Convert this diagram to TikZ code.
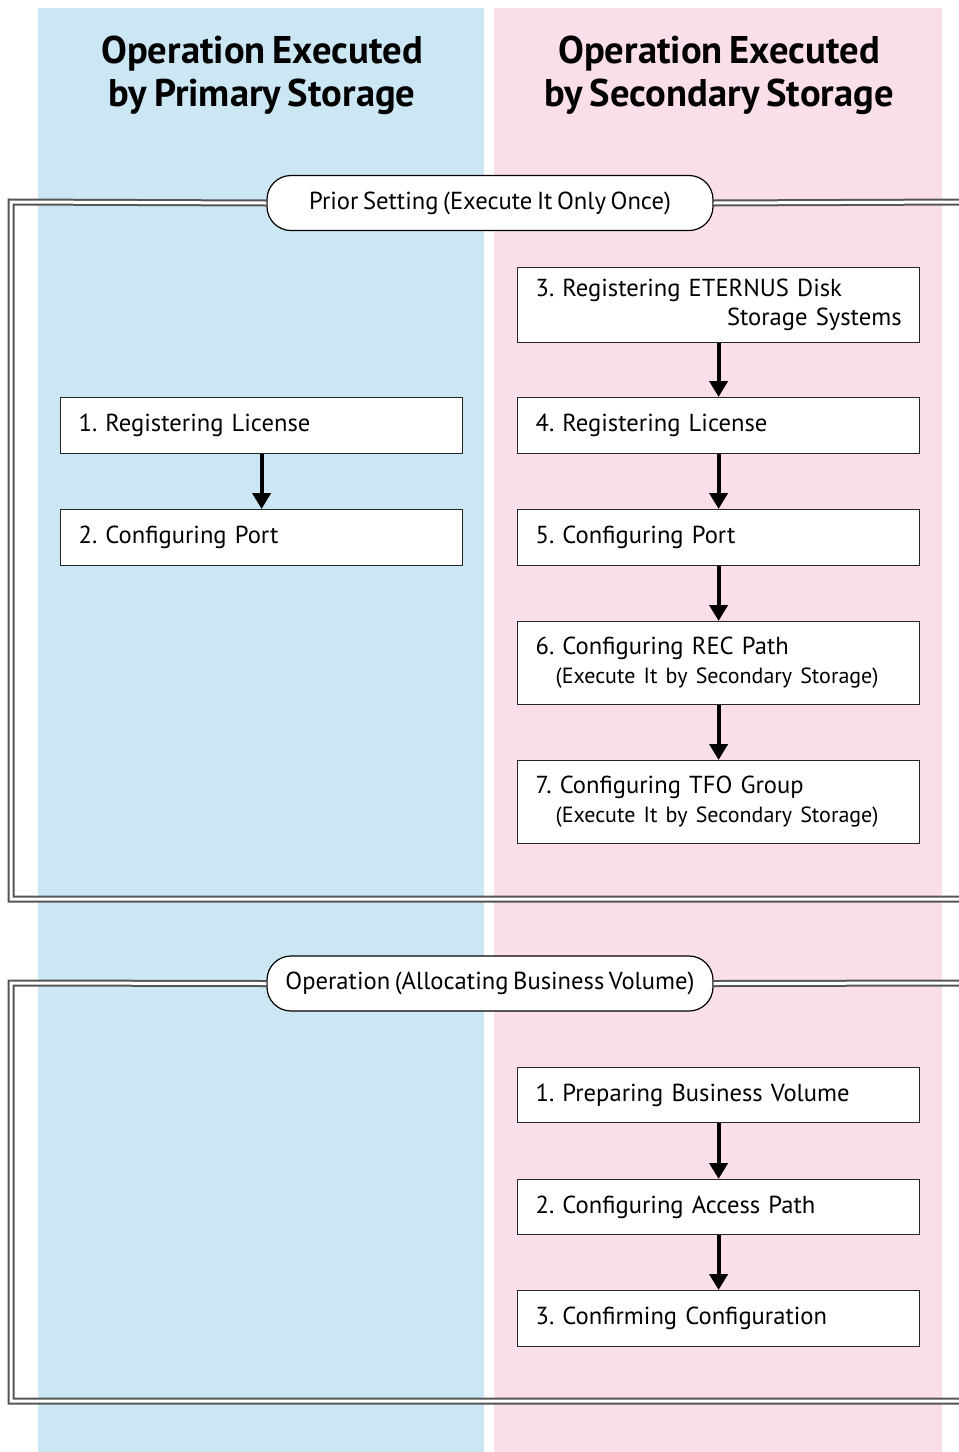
\documentclass[tikz,border=0pt]{standalone}
\usepackage{fontspec}
\setmainfont[WordSpace=0.7]{PT Sans}
\frenchspacing
\usetikzlibrary{arrows.meta}
\definecolor{colblue}{HTML}{CBE7F3}
\definecolor{colpink}{HTML}{FADFEA}
\definecolor{frameline}{HTML}{555555}
\tikzset{
  stepbox/.style={draw=black!85, line width=0.6pt, fill=white, minimum width=201pt, text width=183pt, inner xsep=9pt, inner ysep=0pt, align=left, font=\fontsize{12.3}{14.5}\selectfont, anchor=north west},
  phase/.style={draw=black, line width=0.6pt, fill=white, rounded corners=12pt, minimum width=223pt, minimum height=27.5pt, font=\fontsize{12.3}{14.5}\selectfont},
  frame/.style={draw=frameline, line width=1pt, double=white, double distance=1.5pt},
  flow/.style={line width=2pt, -{Triangle[width=9pt,length=8pt]}},
  title/.style={font=\fontsize{19.3}{21.5}\selectfont\bfseries, align=center}
}
\begin{document}
\begin{tikzpicture}[x=0.5pt,y=-0.5pt]
\useasboundingbox (0,0) rectangle (959,1452);
\fill[white] (0,0) rectangle (959,1452);
\fill[colblue] (38,8) rectangle (484,1452);
\fill[colpink] (494,8) rectangle (942,1452);

\node[title] (t1) at (262,75) {Operation Executed\\by Primary Storage};
\node[title] (t2) at (719,75) {Operation Executed\\by Secondary Storage};

% phase 1
\node[phase] (p1) at (490,203) {Prior Setting (Execute It Only Once)};
\coordinate (f1a) at (11,202);
\coordinate (f1b) at (11,899);
\coordinate (f1c) at (965,899);
\coordinate (f1d) at (965,202);
\draw[frame] (p1.west) -- (f1a) -- (f1b) -- (f1c);
\draw[frame] (p1.east) -- (f1d);

\node[stepbox, minimum height=28pt] (l1) at (60,397) {1. Registering License};
\node[stepbox, minimum height=28pt] (l2) at (60,509) {2. Configuring Port};

\node[stepbox, minimum height=37.5pt] (r3) at (517,267) {3. Registering ETERNUS Disk\\\mbox{}\hfill Storage Systems};
\node[stepbox, minimum height=28pt] (r4) at (517,397) {4. Registering License};
\node[stepbox, minimum height=28pt] (r5) at (517,509) {5. Configuring Port};
\node[stepbox, minimum height=41.5pt] (r6) at (517,621) {6. Configuring REC Path\\\hspace*{10pt}{\fontsize{11}{14}\selectfont (Execute It by Secondary Storage)}};
\node[stepbox, minimum height=41.5pt] (r7) at (517,760) {7. Configuring TFO Group\\\hspace*{10pt}{\fontsize{11}{14}\selectfont (Execute It by Secondary Storage)}};

\draw[flow] (l1.south) -- (l2.north);
\draw[flow] (r3.south) -- (r4.north);
\draw[flow] (r4.south) -- (r5.north);
\draw[flow] (r5.south) -- (r6.north);
\draw[flow] (r6.south) -- (r7.north);

% phase 2
\node[phase] (p2) at (490,983.5) {Operation (Allocating Business Volume)};
\coordinate (f2a) at (11,983);
\coordinate (f2b) at (11,1401);
\coordinate (f2c) at (965,1401);
\coordinate (f2d) at (965,983);
\draw[frame] (p2.west) -- (f2a) -- (f2b) -- (f2c);
\draw[frame] (p2.east) -- (f2d);

\node[stepbox, minimum height=27.5pt] (b1) at (517,1067) {1. Preparing Business Volume};
\node[stepbox, minimum height=27.5pt] (b2) at (517,1179) {2. Configuring Access Path};
\node[stepbox, minimum height=28pt] (b3) at (517,1290) {3. Confirming Configuration};

\draw[flow] (b1.south) -- (b2.north);
\draw[flow] (b2.south) -- (b3.north);
\end{tikzpicture}
\end{document}
